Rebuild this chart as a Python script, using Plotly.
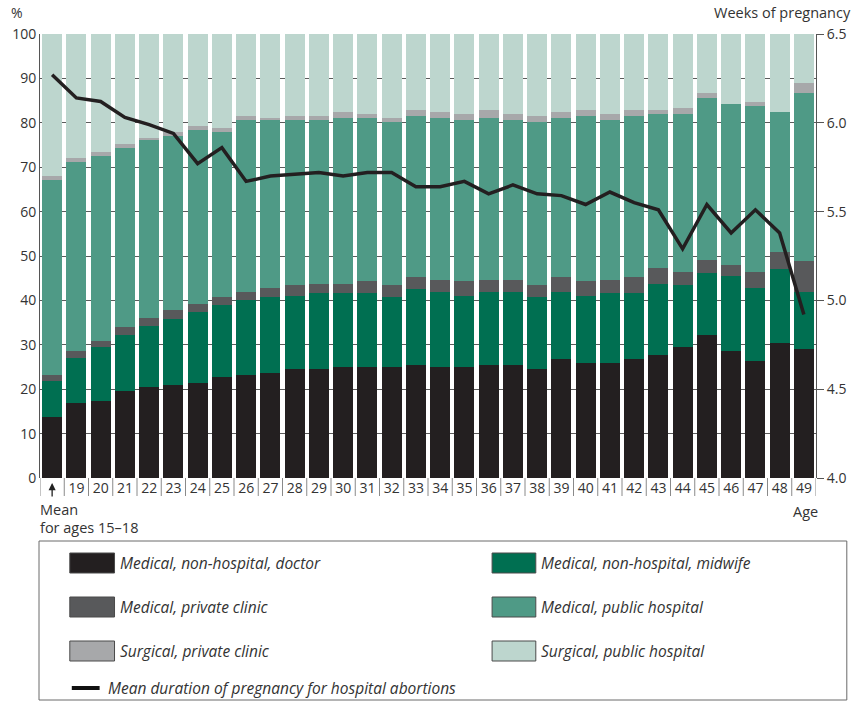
import plotly.graph_objects as go

# ---------------- data ----------------
categories = ["Mean"] + [str(a) for a in range(19, 50)]
tick_labels = [""] + [str(a) for a in range(19, 50)]

med_nonhosp_doctor = [13.8, 17.0, 17.4, 19.6, 20.6, 20.9, 21.4, 22.7, 23.2, 23.6, 24.5, 24.5, 25.0, 25.0, 25.0, 25.4,
                      25.0, 25.0, 25.4, 25.4, 24.5, 26.7, 25.8, 25.8, 26.7, 27.6, 29.4, 32.1, 28.5, 26.3, 30.3, 29.0]
med_nonhosp_midwife = [8.0, 10.1, 12.0, 12.5, 13.7, 14.8, 16.1, 16.2, 17.0, 17.1, 16.6, 17.1, 16.6, 16.6, 15.7, 17.1,
                       17.0, 16.1, 16.6, 16.6, 16.2, 15.3, 15.3, 15.8, 14.9, 16.2, 14.0, 14.0, 17.1, 16.6, 16.7, 13.0]
med_private_clinic = [1.4, 1.4, 1.4, 1.8, 1.8, 2.2, 1.8, 1.8, 1.8, 2.2, 2.3, 2.2, 2.2, 2.7, 2.7, 2.7,
                      2.7, 3.2, 2.7, 2.7, 2.7, 3.2, 3.2, 3.1, 3.6, 3.6, 3.1, 3.1, 2.3, 3.6, 4.0, 6.8]
med_public_hospital = [43.9, 42.7, 41.8, 40.5, 40.0, 39.1, 39.1, 37.2, 38.6, 37.7, 37.2, 36.8, 37.3, 36.8, 36.8, 36.3,
                       36.4, 36.3, 36.4, 35.9, 36.8, 35.9, 37.2, 35.9, 36.3, 34.6, 35.5, 36.3, 36.3, 37.3, 31.4, 38.0]
surg_private_clinic = [0.9, 0.9, 0.8, 0.8, 0.5, 0.9, 0.8, 0.9, 0.9, 0.5, 0.9, 0.9, 1.3, 0.9, 0.9, 1.4,
                       1.3, 1.4, 1.8, 1.4, 1.3, 1.3, 1.4, 1.4, 1.4, 0.9, 1.3, 1.3, 0.0, 0.9, 0.0, 2.2]
surg_public_hospital = [32.0, 27.9, 26.6, 24.8, 23.4, 22.1, 20.8, 21.2, 18.5, 18.9, 18.5, 18.5, 17.6, 18.0, 18.9, 17.1,
                        17.6, 18.0, 17.1, 18.0, 18.5, 17.6, 17.1, 18.0, 17.1, 17.1, 16.7, 13.2, 15.8, 15.3, 17.6, 11.0]
mean_weeks = [6.27, 6.14, 6.12, 6.03, 5.99, 5.94, 5.77, 5.86, 5.67, 5.70, 5.71, 5.72, 5.70, 5.72, 5.72, 5.64,
              5.64, 5.67, 5.60, 5.65, 5.60, 5.59, 5.54, 5.61, 5.55, 5.51, 5.29, 5.54, 5.38, 5.51, 5.38, 4.92]

series_names = ["Medical, non-hospital, doctor", "Medical, non-hospital, midwife", "Medical, private clinic",
                "Medical, public hospital", "Surgical, private clinic", "Surgical, public hospital"]
series_values = [med_nonhosp_doctor, med_nonhosp_midwife, med_private_clinic,
                 med_public_hospital, surg_private_clinic, surg_public_hospital]
series_colors = ["#231f20", "#006f51", "#58595b", "#4f9a86", "#a7a8aa", "#bdd6ce"]
line_name = "Mean duration of pregnancy for hospital abortions"
line_color = "#231f20"

FONT = "Open Sans"
TXT = "#333333"

fig = go.Figure()
for name, vals, col in zip(series_names, series_values, series_colors):
    fig.add_trace(go.Bar(x=categories, y=vals, name=name, marker=dict(color=col, line=dict(width=0)),
                         showlegend=False))
fig.add_trace(go.Scatter(x=categories, y=mean_weeks, name=line_name, yaxis="y2", mode="lines",
                         line=dict(color=line_color, width=3.5), showlegend=False))

# plot geometry (pixels) -> paper helpers
L, R, T, B = 38, 39, 34, 230
W, H = 858, 708
PW, PH = W - L - R, H - T - B


def px(x):
    return (x - L) / PW


def py(y):
    return (H - B - y) / PH


shapes = []
# category separators under the x axis
for i in range(len(categories) + 1):
    shapes.append(dict(type="line", xref="x", yref="paper", x0=i - 0.5, x1=i - 0.5, y0=0, y1=py(496),
                       line=dict(color="#8a8a8a", width=1)))
# legend box
shapes.append(dict(type="rect", xref="paper", yref="paper", x0=px(37), x1=px(850), y0=py(700), y1=py(541),
                   line=dict(color="#6a6a6a", width=1), fillcolor="rgba(0,0,0,0)"))

annotations = []
LEG = 15.5
# legend entries
col_x = [(68, 113, 117), (493, 537, 540)]
row_y = [563, 607, 651]
for k, (name, col) in enumerate(zip(series_names, series_colors)):
    r, c = divmod(k, 2)
    sx0, sx1, tx = col_x[c]
    cy = row_y[r]
    shapes.append(dict(type="rect", xref="paper", yref="paper", x0=px(sx0), x1=px(sx1),
                       y0=py(cy + 10), y1=py(cy - 10), fillcolor=col, line=dict(color="#4a4a4a", width=1)))
    annotations.append(dict(xref="paper", yref="paper", x=px(tx), y=py(cy), text="<i>" + name + "</i>",
                            showarrow=False, xanchor="left", yanchor="middle",
                            font=dict(family=FONT, size=LEG, color=TXT)))
shapes.append(dict(type="line", xref="paper", yref="paper", x0=px(70), x1=px(98), y0=py(688), y1=py(688),
                   line=dict(color="#111111", width=4)))
annotations.append(dict(xref="paper", yref="paper", x=px(104), y=py(688), text="<i>" + line_name + "</i>",
                        showarrow=False, xanchor="left", yanchor="middle",
                        font=dict(family=FONT, size=LEG, color=TXT)))

# axis titles and notes
annotations += [
    dict(xref="paper", yref="paper", x=px(15), y=py(12), text="%", showarrow=False,
         xanchor="center", yanchor="middle", font=dict(family=FONT, size=14, color=TXT)),
    dict(xref="paper", yref="paper", x=px(856), y=py(12), text="Weeks of pregnancy", showarrow=False,
         xanchor="right", yanchor="middle", font=dict(family=FONT, size=14.5, color=TXT)),
    dict(xref="paper", yref="paper", x=px(36), y=py(510), text="Mean", showarrow=False,
         xanchor="left", yanchor="middle", font=dict(family=FONT, size=14.5, color=TXT)),
    dict(xref="paper", yref="paper", x=px(36), y=py(527), text="for ages 15–18", showarrow=False,
         xanchor="left", yanchor="middle", font=dict(family=FONT, size=14.5, color=TXT)),
    dict(xref="paper", yref="paper", x=px(808), y=py(511), text="Age", showarrow=False,
         xanchor="center", yanchor="middle", font=dict(family=FONT, size=14.5, color=TXT)),
    dict(xref="x", yref="paper", x=categories[0], y=py(483), text="", showarrow=True,
         ax=0, ay=15, arrowhead=2, arrowsize=1.1, arrowwidth=1.3, arrowcolor="#222222"),
]

fig.update_layout(
    width=W, height=H,
    margin=dict(l=L, r=R, t=T, b=B, pad=0),
    paper_bgcolor="white", plot_bgcolor="white",
    barmode="stack", bargap=0.18,
    font=dict(family=FONT, size=14, color=TXT),
    showlegend=False,
    xaxis=dict(type="category", tickvals=categories, ticktext=tick_labels, range=[-0.5, len(categories) - 0.5],
               showgrid=False, showline=False, zeroline=False, ticks="",
               tickfont=dict(family=FONT, size=14, color=TXT)),
    yaxis=dict(range=[0, 100], dtick=10, showgrid=True, gridcolor="#5b5b5b", gridwidth=1,
               zeroline=False, showline=True, linecolor="#555555", linewidth=1, ticks="",
               tickfont=dict(family=FONT, size=14, color=TXT)),
    yaxis2=dict(range=[4, 6.5], dtick=0.5, tickformat=".1f", overlaying="y", side="right",
                showgrid=False, zeroline=False, showline=True, linecolor="#555555", linewidth=1,
                ticks="outside", ticklen=7, tickcolor="#555555",
                tickfont=dict(family=FONT, size=14, color=TXT)),
    shapes=shapes,
    annotations=annotations,
)

fig.write_html("out.html", config={"displayModeBar": False},
               post_script="document.body.style.margin='0';document.body.style.overflow='hidden';")
